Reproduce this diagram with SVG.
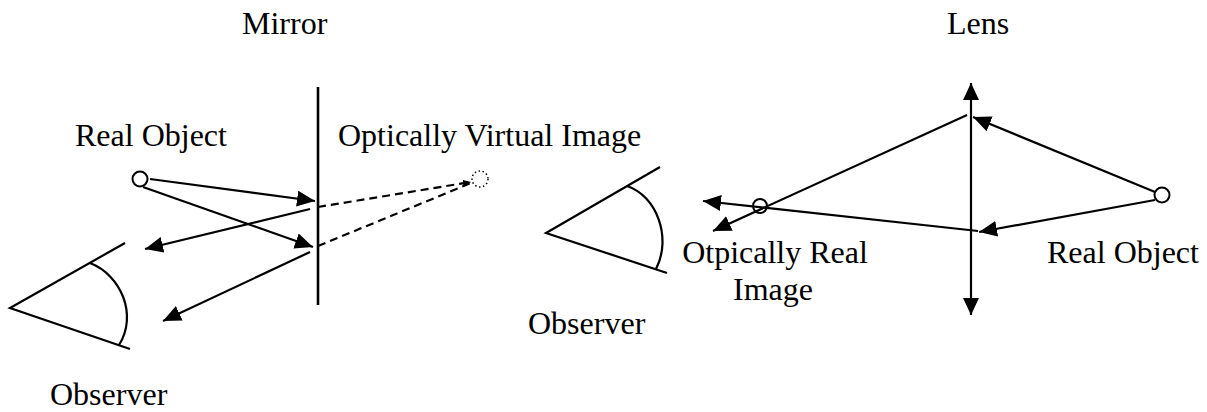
<svg xmlns="http://www.w3.org/2000/svg" width="1207" height="412" viewBox="0 0 1207 412">
<style>
text{font-family:"Liberation Serif","Times New Roman",serif;font-size:32px;fill:#000}
.ln{stroke:#000;stroke-width:2.2;fill:none}
.ray{stroke:#000;stroke-width:2.2;fill:none;marker-end:url(#ah)}
.dash{stroke:#000;stroke-width:2.2;fill:none;stroke-dasharray:8 5}
.obj{stroke:#000;stroke-width:2;fill:#fff}
</style>
<defs>
<marker id="ah" markerUnits="userSpaceOnUse" markerWidth="19" markerHeight="17" refX="18" refY="8" orient="auto"><path d="M0,0 L18,8 L0,16 z" fill="#000"/></marker>
<marker id="lh" markerUnits="userSpaceOnUse" markerWidth="18" markerHeight="17" refX="17" refY="8" orient="auto-start-reverse"><path d="M0,0 L17,8 L0,16 z" fill="#000"/></marker>
<marker id="sh" markerUnits="userSpaceOnUse" markerWidth="9" markerHeight="8" refX="8" refY="3.5" orient="auto"><path d="M0,0 L8,3.5 L0,7 z" fill="#000"/></marker>
</defs>
<g id="labels">
<text x="242" y="34">Mirror</text>
<text x="947" y="34">Lens</text>
</g>
<g id="mirror"><line class="ln" x1="318" y1="87" x2="318" y2="305" style="stroke-width:2.6"/></g>
<g id="lens"><line class="ln" x1="971" y1="83" x2="971" y2="315" marker-start="url(#lh)" marker-end="url(#lh)"/></g>
<g id="connectors">
<line class="ray" x1="150" y1="179" x2="315" y2="201"/>
<line class="ray" x1="143" y1="187" x2="313" y2="247"/>
<line class="ray" x1="310" y1="209" x2="145" y2="249"/>
<line class="ray" x1="310" y1="252" x2="163" y2="321"/>
<line class="dash" x1="318" y1="207" x2="471" y2="182" marker-end="url(#sh)"/>
<line class="dash" x1="318" y1="246" x2="471" y2="183"/>
<line class="ray" x1="1155" y1="192" x2="973" y2="117"/>
<line class="ray" x1="1155" y1="200" x2="979" y2="232"/>
<line class="ray" x1="967" y1="115" x2="713" y2="231"/>
<line class="ray" x1="978" y1="231" x2="703" y2="201"/>
</g>
<g id="real-object-mirror">
<circle class="obj" cx="140" cy="179" r="7.5"/>
<text x="75" y="146">Real Object</text>
</g>
<g id="virtual-image">
<circle cx="480" cy="179" r="8" fill="none" stroke="#000" stroke-width="1.5" stroke-dasharray="1.5 2.5"/>
<text x="338" y="146">Optically Virtual Image</text>
</g>
<g id="observer-mirror">
<path class="ln" d="M125,243 L10,308 L130,349"/>
<path class="ln" d="M90,263 C121,275 138,315 119,345"/>
<text x="50" y="405">Observer</text>
</g>
<g id="observer-lens">
<path class="ln" d="M660,167 L546,233 L667,273"/>
<path class="ln" d="M627,186 C657,196 672,238 656,269"/>
<text x="528" y="334">Observer</text>
</g>
<g id="real-image">
<circle cx="760" cy="206" r="7" fill="none" stroke="#000" stroke-width="2"/>
<text x="775" y="263" text-anchor="middle">Otpically Real</text>
<text x="773" y="300" text-anchor="middle">Image</text>
</g>
<g id="real-object-lens">
<circle class="obj" cx="1162" cy="195" r="7.5"/>
<text x="1047" y="263">Real Object</text>
</g>
</svg>
